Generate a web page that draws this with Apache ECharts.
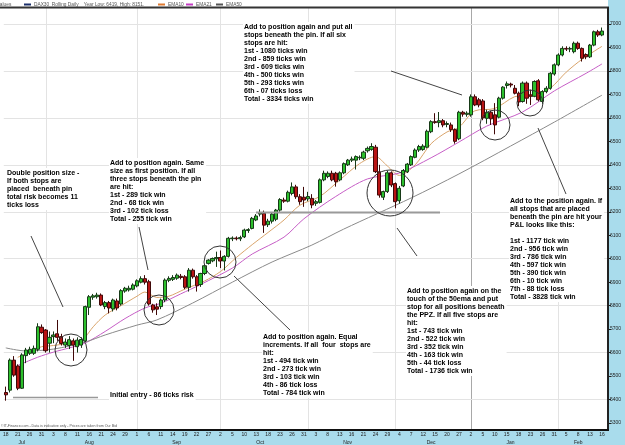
<!DOCTYPE html>
<html>
<head>
<meta charset="utf-8">
<script src="https://cdn.jsdelivr.net/npm/echarts@6/dist/echarts.min.js"></script>
<style>
html, body { margin: 0; padding: 0; background: #fff; }
#chart { width: 625px; height: 445px; }
</style>
</head>
<body>
<div id="chart"></div>
<script>
// trading days shown on the chart
var jul06 = [18,19,20,21,24,25,26,27,28,31];
var aug06 = [1,2,3,4,7,8,9,10,11,14,15,16,17,18,21,22,23,24,25,28,29,30,31];
var sep06 = [1,4,5,6,7,8,11,12,13,14,15,18,19,20,21,22,25,26,27,28,29];
var oct06 = [2,3,4,5,6,9,10,11,12,13,16,17,18,19,20,23,24,25,26,27,30,31];
var nov06 = [1,2,3,6,7,8,9,10,13,14,15,16,17,20,21,22,23,24,27,28,29,30];
var dec06 = [1,4,5,6,7,8,11,12,13,14,15,18,19,20,21,22,27,28,29];
var jan07 = [2,3,4,5,8,9,10,11,12,15,16,17,18,19,22,23,24,25,26,29,30,31];
var feb07 = [1,2,5,6,7,8,9,12,13,14,15,16];
var months = [
    ['Jul', '2006-07', jul06], ['Aug', '2006-08', aug06], ['Sep', '2006-09', sep06],
    ['Oct', '2006-10', oct06], ['Nov', '2006-11', nov06], ['Dec', '2006-12', dec06],
    ['Jan', '2007-01', jan07], ['Feb', '2007-02', feb07]
];

// DAX30 daily prices
var opens = [5430,5440,5568,5543,5448,5587,5597,5597,5614,5708,
    5696,5640,5668,5680,5668,5632,5630,5650,5625,5632,
    5650,5793,5836,5838,5845,5796,5813,5786,5820,5807,
    5862,5867,5870,5884,5900,5915,5902,5803,5795,5796,
    5824,5908,5912,5917,5925,5923,5878,5951,5923,5890,
    5937,5980,5991,6000,6005,5990,6010,6085,6088,6085,
    6093,6120,6129,6165,6190,6193,6145,6160,6168,6207,
    6250,6245,6278,6306,6264,6262,6255,6257,6236,6240,
    6336,6350,6364,6364,6336,6366,6400,6420,6420,6430,
    6428,6460,6466,6475,6370,6262,6286,6366,6320,6247,
    6310,6370,6400,6432,6463,6465,6475,6541,6584,6580,
    6588,6572,6570,6550,6511,6624,6615,6613,6690,6677,
    6672,6598,6624,6613,6603,6684,6738,6744,6726,6705,
    6670,6748,6698,6692,6758,6670,6712,6726,6787,6826,
    6868,6896,6893,6882,6918,6896,6870,6860,6910,6967,
    6953];
var closes = [5420,5568,5504,5448,5590,5611,5614,5618,5710,5685,
    5608,5665,5675,5665,5639,5645,5655,5632,5653,5656,
    5796,5838,5842,5845,5803,5813,5790,5824,5790,5864,
    5874,5874,5888,5906,5915,5900,5807,5782,5785,5824,
    5909,5916,5920,5930,5920,5878,5951,5923,5885,5937,
    5970,5994,6001,6005,5990,6010,6087,6088,6085,6090,
    6122,6124,6172,6182,6195,6143,6160,6190,6207,6252,
    6245,6283,6306,6264,6243,6250,6265,6229,6243,6336,
    6364,6364,6336,6328,6366,6405,6420,6425,6435,6432,
    6454,6470,6478,6371,6271,6286,6366,6314,6243,6300,
    6376,6403,6435,6463,6478,6480,6543,6584,6580,6588,
    6570,6576,6550,6500,6624,6616,6620,6690,6655,6655,
    6600,6624,6596,6570,6684,6731,6745,6740,6705,6668,
    6748,6684,6692,6755,6677,6712,6726,6790,6826,6868,
    6896,6893,6896,6918,6896,6854,6860,6910,6967,6953,
    6970];
var lows = [5395,5430,5497,5440,5445,5555,5590,5590,5605,5680,
    5600,5600,5640,5650,5630,5620,5615,5565,5600,5620,
    5645,5760,5825,5830,5798,5785,5767,5775,5780,5800,
    5855,5860,5865,5878,5895,5890,5800,5770,5760,5785,
    5815,5900,5905,5910,5912,5870,5860,5915,5860,5880,
    5930,5975,5985,5965,5960,5950,6005,6075,6078,6075,
    6088,6110,6125,6160,6180,6110,6135,6150,6160,6200,
    6238,6240,6270,6255,6230,6221,6245,6215,6225,6235,
    6330,6343,6330,6307,6330,6360,6395,6412,6380,6420,
    6420,6452,6460,6365,6260,6250,6280,6305,6215,6235,
    6305,6365,6395,6428,6455,6460,6470,6535,6575,6560,
    6560,6560,6540,6490,6505,6605,6605,6605,6650,6645,
    6590,6575,6570,6530,6598,6678,6725,6730,6700,6650,
    6665,6660,6655,6688,6670,6660,6705,6720,6780,6820,
    6862,6885,6880,6875,6890,6840,6850,6855,6905,6945,
    6948];
var highs = [5455,5575,5585,5550,5597,5620,5625,5630,5725,5720,
    5700,5690,5690,5739,5680,5660,5670,5660,5665,5665,
    5800,5845,5850,5855,5852,5820,5820,5830,5830,5870,
    5880,5885,5895,5912,5925,5930,5910,5808,5810,5830,
    5916,5925,5930,5937,5935,5930,5960,5958,5930,5940,
    5975,5998,6005,6030,6035,6015,6093,6095,6095,6098,
    6128,6130,6178,6190,6210,6205,6170,6195,6212,6258,
    6260,6290,6325,6315,6275,6306,6285,6275,6250,6342,
    6375,6372,6375,6370,6372,6410,6425,6435,6440,6440,
    6460,6478,6492,6485,6400,6290,6375,6372,6325,6310,
    6382,6408,6440,6470,6485,6488,6550,6590,6620,6625,
    6595,6585,6580,6555,6630,6630,6628,6700,6700,6685,
    6680,6635,6630,6663,6690,6735,6755,6750,6740,6712,
    6755,6755,6720,6760,6765,6718,6735,6795,6832,6875,
    6905,6905,6903,6925,6925,6900,6875,6915,6972,6975,
    6985];

// moving averages: [day index, value]
var ema10 = [[3,5580],[6,5600],[9,5625],[12,5630],[16,5640],[19,5645],[20,5665],[22,5710],
    [25,5760],[29,5800],[33,5840],[35,5858],[38,5835],[41,5840],[45,5870],[50,5905],
    [54,5945],[58,6005],[62,6060],[66,6112],[70,6165],[74,6228],[79,6265],[84,6335],
    [89,6405],[93,6435],[96,6395],[99,6355],[103,6400],[107,6490],[111,6540],[114,6560],
    [118,6630],[123,6640],[128,6690],[133,6700],[137,6727],[141,6795],[145,6850],[150,6905]];
var ema21 = [[3,5545],[8,5580],[12,5602],[16,5620],[20,5641],[25,5690],[30,5745],[35,5790],
    [39,5810],[44,5850],[49,5890],[57,5960],[62,6020],[70,6092],[75,6170],[83,6265],
    [91,6340],[99,6365],[107,6430],[114,6497],[121,6565],[130,6625],[138,6715],[146,6790],[150,6830]];
var ema50 = [[0,5620],[5,5607],[12,5615],[20,5645],[25,5675],[33,5717],[38,5739],[47,5811],
    [57,5900],[67,5986],[77,6058],[85,6126],[102,6259],[114,6361],[127,6480],[138,6582],[150,6697]];

var yTicks = [5300, 7000, 100];
var gridValues = [5400, 5600, 5800, 6000, 6200, 6400, 6600, 6800, 7000];

var notes = [
    [243, 22, 'Add to position again and put all\nstops beneath the pin. If all six\nstops are hit:\n1st - 1080 ticks win\n2nd - 859 ticks win\n3rd - 609 ticks win\n4th - 500 ticks win\n5th - 293 ticks win\n6th - 07 ticks loss\nTotal - 3334 ticks win'],
    [6, 168, 'Double position size -\nIf both stops are\nplaced  beneath pin\ntotal risk becomes 11\nticks loss'],
    [109, 158, 'Add to position again. Same\nsize as first position. If all\nthree stops beneath the pin\nare hit:\n1st - 289 tick win\n2nd - 68 tick win\n3rd - 102 tick loss\nTotal - 255 tick win'],
    [262, 332, 'Add to position again. Equal\nincrements. If all  four  stops are\nhit:\n1st - 494 tick win\n2nd - 273 tick win\n3rd - 103 tick win\n4th - 86 tick loss\nTotal - 784 tick win'],
    [406, 286, 'Add to position again on the\ntouch of the 50ema and put\nstop for all positions beneath\nthe PPZ. If all five stops are\nhit:\n1st - 743 tick win\n2nd - 522 tick win\n3rd - 352 tick win\n4th - 163 tick win\n5th - 44 tick loss\nTotal - 1736 tick win'],
    [509, 196, 'Add to the position again. If\nall stops that are placed\nbeneath the pin are hit your\nP&L looks like this:\n\n1st - 1177 tick win\n2nd - 956 tick win\n3rd - 786 tick win\n4th - 597 tick win\n5th - 390 tick win\n6th - 10 tick win\n7th - 88 tick loss\nTotal - 3828 tick win'],
    [109, 390, 'Initial entry - 86 ticks risk']
];
var pointers = [[31,236,63,307],[139,227,148,270],[234,276,290,330],[391,71,462,95],[397,228,417,256],[538,128,566,194]];
var rings = [[71,350,16],[159,310,15],[220,262,16],[390,193,23],[495,125,15],[530,103,13]];

var cats = [];
var monthStart = [];
var monthMid = [];
var monthName = {};
months.forEach(function (m) {
    var first = cats.length;
    m[2].forEach(function (d) { cats.push(m[1] + '-' + (d < 10 ? '0' + d : d)); });
    var mid = Math.floor((first + cats.length - 1) / 2);
    monthStart.push(first);
    monthMid.push(mid);
    monthName[mid] = m[0];
});
cats.push('');

var candles = [];
for (var i = 0; i < opens.length; i++) {
    candles.push([opens[i], closes[i], lows[i], highs[i]]);
}

var chart = echarts.init(document.getElementById('chart'));
var noteFont = 'bold 7px "Liberation Sans", Arial, sans-serif';
var smallFont = '"Liberation Sans", Arial, sans-serif';

chart.setOption({
    animation: false,
    grid: { left: 0, right: 17, top: 24, bottom: 22 },
    xAxis: [{
        type: 'category', data: cats, offset: 7,
        axisLine: { show: false }, axisTick: { show: false }, splitLine: { show: false },
        axisLabel: {
            interval: 2, fontSize: 5, color: '#222', margin: 2, fontFamily: smallFont,
            formatter: function (v) { return v ? String(+v.slice(8)) : ''; }
        }
    }, {
        type: 'category', data: cats, offset: 7, position: 'bottom',
        axisLine: { show: false }, axisTick: { show: false }, splitLine: { show: false },
        axisLabel: {
            fontSize: 5, color: '#222', margin: 10, fontFamily: smallFont,
            interval: function (idx) { return monthMid.indexOf(idx) >= 0; },
            formatter: function (v, idx) { return monthName[idx] || ''; }
        }
    }],
    yAxis: {
        type: 'value', position: 'right', min: yTicks[0], max: yTicks[1], interval: yTicks[2],
        axisLine: { show: false },
        axisTick: { show: true, length: 3, lineStyle: { color: '#222' } },
        axisLabel: {
            fontSize: 5, color: '#222', margin: 2, fontFamily: smallFont,
            formatter: function (v) { return String(v); }
        },
        splitLine: { show: false }
    },
    series: [{
        type: 'candlestick',
        data: candles,
        barWidth: 3.6,
        z: 4,
        itemStyle: {
            color: '#2cc02c', color0: '#b81414',
            borderColor: '#173a17', borderColor0: '#400808', borderWidth: 1
        },
        markLine: {
            silent: true, symbol: ['none', 'none'], label: { show: false },
            lineStyle: { type: 'solid', color: '#e3e3e3', width: 1 },
            z: 1,
            data: gridValues.map(function (v) { return { yAxis: v }; })
        }
    }, {
        name: 'EMA10', type: 'line', data: ema10, showSymbol: false, smooth: 0.3, z: 3,
        lineStyle: { color: '#d9a46b', width: 1 }
    }, {
        name: 'EMA21', type: 'line', data: ema21, showSymbol: false, smooth: 0.3, z: 3,
        lineStyle: { color: '#c65ec6', width: 1 }
    }, {
        name: 'EMA50', type: 'line', data: ema50, showSymbol: false, smooth: 0.3, z: 3,
        lineStyle: { color: '#8a8a8a', width: 1 }
    }]
});

function px(idx) { return chart.convertToPixel({ xAxisIndex: 0 }, cats[idx]); }
function py(v) { return chart.convertToPixel({ yAxisIndex: 0 }, v); }

var g = [];
g.push({ type: 'rect', z: -10, shape: { x: 608, y: 0, width: 17, height: 445 }, style: { fill: '#a9dcec' } });
g.push({ type: 'rect', z: -10, shape: { x: 0, y: 430, width: 625, height: 15 }, style: { fill: '#a9dcec' } });

monthStart.slice(1).forEach(function (idx, k) {
    var x = Math.round(px(idx)) + 0.5;
    g.push({ type: 'line', z: -5, shape: { x1: x, y1: 8, x2: x, y2: 430 },
        style: { stroke: k === 5 ? '#a8a8a8' : '#e3e3e3', lineWidth: 1 } });
});

g.push({ type: 'line', z: 50, shape: { x1: 0, y1: 7.5, x2: 609, y2: 7.5 }, style: { stroke: '#333', lineWidth: 2 } });
g.push({ type: 'line', z: 50, shape: { x1: 608, y1: 7, x2: 608, y2: 431 }, style: { stroke: '#222', lineWidth: 2 } });
g.push({ type: 'line', z: 50, shape: { x1: 0, y1: 430, x2: 609, y2: 430 }, style: { stroke: '#111', lineWidth: 2 } });

// PPZ line and initial entry line
var yPPZ = Math.round(py(6200)) + 0.5;
g.push({ type: 'line', z: 20, shape: { x1: 256, y1: yPPZ, x2: 440, y2: yPPZ }, style: { stroke: '#9a9a9a', lineWidth: 2 } });
var yEntry = Math.round(py(5411)) + 0.5;
g.push({ type: 'line', z: 20, shape: { x1: 13, y1: yEntry, x2: 98, y2: yEntry }, style: { stroke: '#999', lineWidth: 1.5 } });

pointers.forEach(function (p) {
    g.push({ type: 'line', z: 30, shape: { x1: p[0], y1: p[1], x2: p[2], y2: p[3] }, style: { stroke: '#444', lineWidth: 1 } });
});
rings.forEach(function (r) {
    g.push({ type: 'circle', z: 30, shape: { cx: r[0], cy: r[1], r: r[2] }, style: { fill: null, stroke: '#333', lineWidth: 1 } });
});
notes.forEach(function (n) {
    g.push({ type: 'text', z: 40, x: n[0], y: n[1],
        style: { text: n[2], font: noteFont, lineHeight: 8, fill: '#000', verticalAlign: 'top',
            backgroundColor: '#fff', padding: [1, 2, 1, 1] } });
});

// legend row
var legendFont = '4.8px ' + smallFont;
g.push({ type: 'text', z: 40, x: -3, y: 4.5, style: { text: 'Values', font: legendFont, fill: '#555', verticalAlign: 'middle' } });
[[24, '#1b2f6b', 'DAX30  Rolling Daily    Year Low: 6419, High: 8151.'],
 [158, '#e07a30', 'EMA10'], [186, '#c43cc4', 'EMA21'], [216, '#555', 'EMA50']].forEach(function (l) {
    g.push({ type: 'line', z: 40, shape: { x1: l[0], y1: 4.5, x2: l[0] + 7, y2: 4.5 }, style: { stroke: l[1], lineWidth: 2 } });
    g.push({ type: 'text', z: 40, x: l[0] + 10, y: 4.5, style: { text: l[2], font: legendFont, fill: '#555', verticalAlign: 'middle' } });
});
g.push({ type: 'text', z: 40, x: 1, y: 426, style: { text: '\u00a9IT-Finance.com - Data is indicative only - Prices are taken from Our Bid',
    font: '3.6px ' + smallFont, fill: '#555', verticalAlign: 'middle' } });

chart.setOption({ graphic: g });
</script>
</body>
</html>
